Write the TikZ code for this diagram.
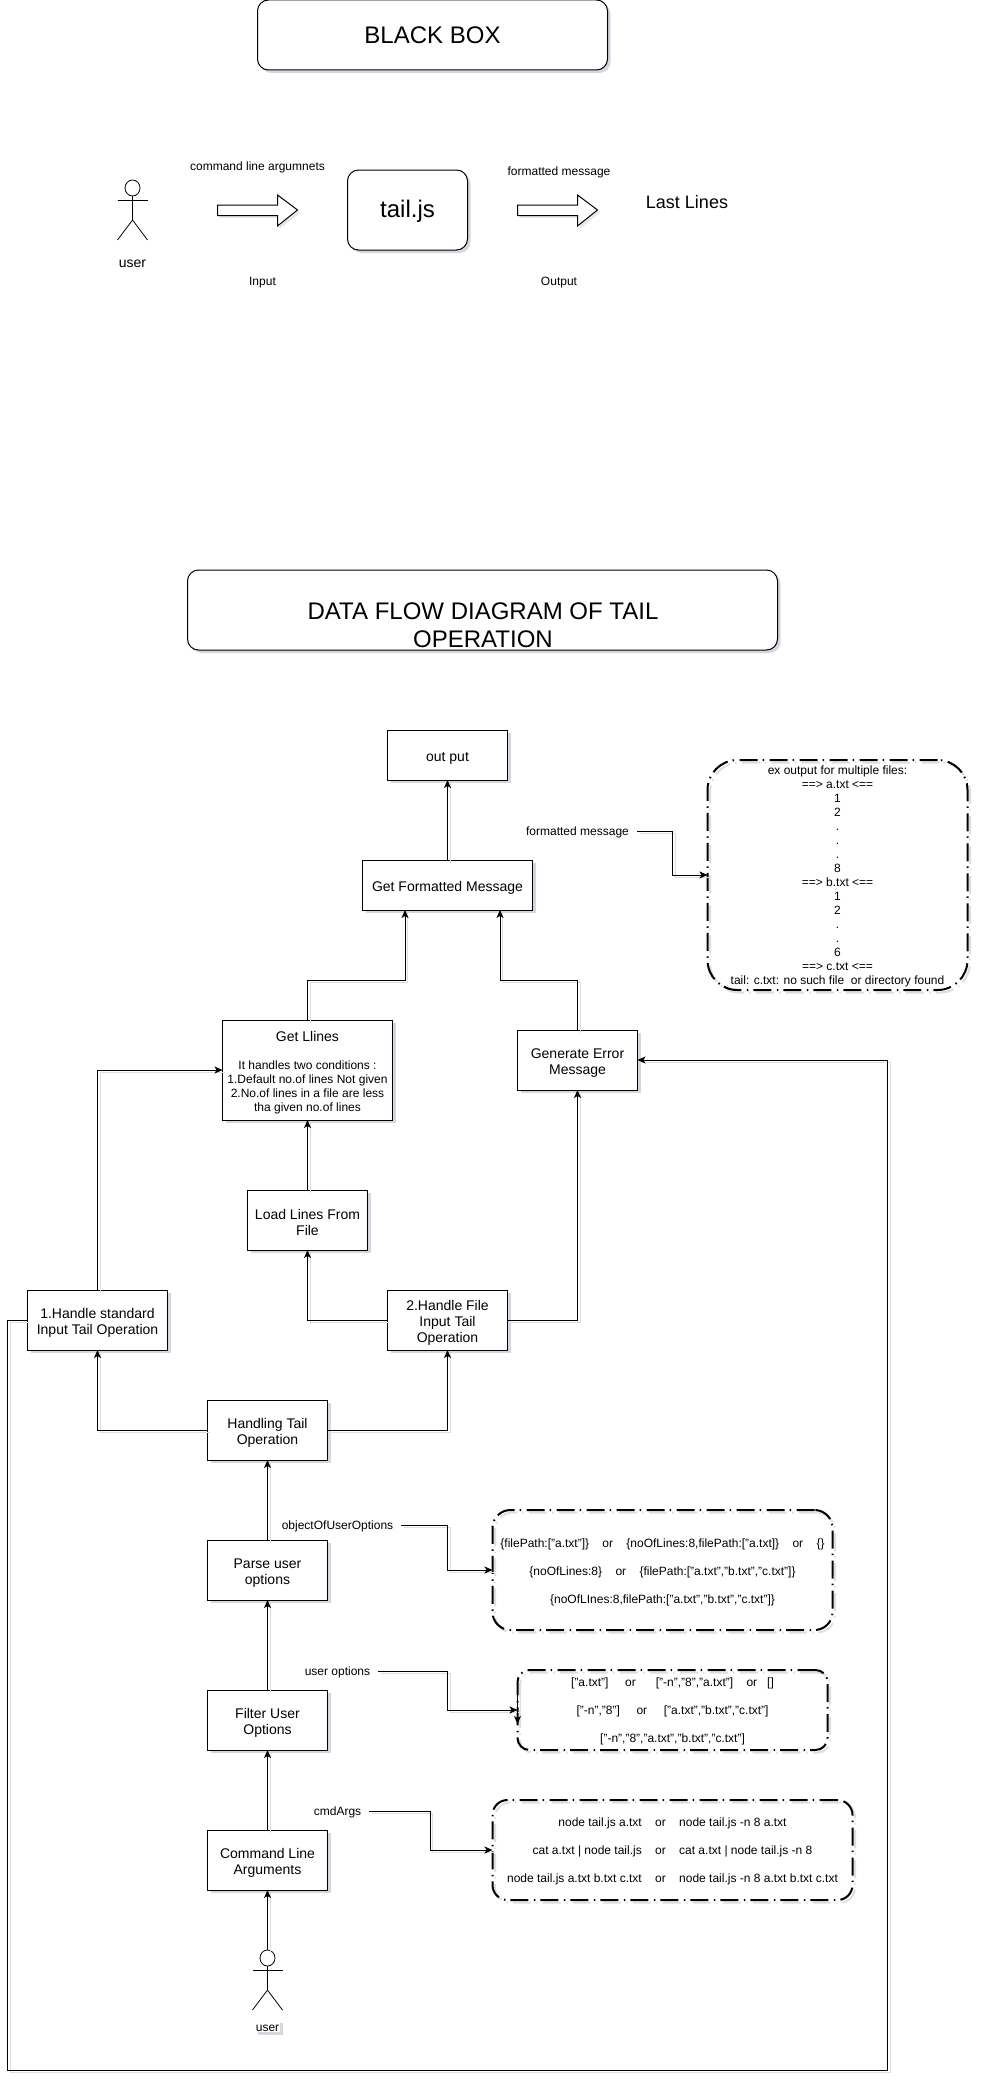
\documentclass[tikz,border=0pt]{standalone}
\usepackage{fontspec}
\setmainfont{Liberation Sans}
\usetikzlibrary{arrows.meta,shadows}
\newcommand{\up}[1]{\rule{0pt}{#1pt}}
\tikzset{
  sbox/.style={drop shadow={shadow xshift=3pt,shadow yshift=-3pt,fill=black!75!blue,opacity=0.16}},
  fbox/.style={draw,fill=white,sbox,line width=1pt,inner sep=0pt,outer sep=0pt,align=center,font=\fontsize{14}{16}\selectfont},
  tbox/.style={fbox,rounded corners=11pt},
  dbox/.style={draw,line width=2pt,inner sep=0pt,outer sep=0pt,align=center,dash pattern=on 18pt off 5.5pt on 1.5pt off 5pt,
    preaction={draw=black!13,transform canvas={shift={(2.5pt,-2.5pt)}}}},
  lbl/.style={inner sep=8pt,align=center,font=\fontsize{12}{14}\selectfont,execute at begin node={\up{11.5}}},
  ln/.style={line width=1pt,preaction={draw=black!13,-,transform canvas={shift={(2.5pt,-2.5pt)}}}},
  conn/.style={ln,-{Stealth[length=8pt,width=7pt,inset=2pt]}},
  actor/.style={line width=0.8pt},
  barrow/.style={line width=1pt,fill=white,drop shadow={shadow xshift=2.5pt,shadow yshift=-2.5pt,opacity=0.2}}
}
\begin{document}
\begin{tikzpicture}[x=1pt,y=-1pt]
\useasboundingbox (0,0) rectangle (980,2090);
%black box part
\node[tbox,minimum width=350,minimum height=70,font=\fontsize{24}{28}\selectfont] (blackbox) at (432.5,35) {BLACK BOX};
\node[tbox,minimum width=120,minimum height=80,font=\fontsize{24}{28}\selectfont] (tailjs) at (407.5,210) {\up{20}tail.js};
\node[lbl,font=\fontsize{14}{16}\selectfont] (user1) at (132.5,262) {user};
\node[lbl] (cmdline) at (257.5,166) {command line argumnets};
\node[lbl] (fmtout) at (559,171) {formatted message};
\node[lbl] (inlbl) at (262.5,281) {Input};
\node[lbl] (outlbl) at (559,281) {Output};
\node[lbl,font=\fontsize{18}{20}\selectfont] (lastlines) at (687,202) {Last Lines};
\foreach \x in {217.5,517.5}{\draw[barrow] (\x,205)--++(60,0)--++(0,-10)--++(20,15)--++(-20,16)--++(0,-10.5)--++(-60,0)--cycle;}
%actors
\foreach \x/\y in {132.5/180,267.5/1950}{
\draw[actor] (\x,\y+8) ellipse (7.5pt and 8pt);
\draw[actor] (\x-15,\y+20)--++(30,0);
\draw[actor] (\x,\y+16)--(\x,\y+40);
\draw[actor] (\x-15,\y+60)--(\x,\y+40)--(\x+15,\y+60);
}
%title
\node[tbox,minimum width=590,minimum height=80] (flowbox) at (482.5,610) {};
\node[font=\fontsize{24}{28}\selectfont,align=center] (flowtitle) at (483,625) {DATA FLOW DIAGRAM OF TAIL\\OPERATION};
%boxes
\node[fbox,minimum width=120,minimum height=50] (output) at (447.5,755) {\up{15.5}out put};
\node[fbox,minimum width=170,minimum height=50] (getfmt) at (447.5,885) {\up{15.5}Get Formatted Message};
\node[fbox,minimum width=170,minimum height=100,font=\fontsize{12}{14}\selectfont] (getlines) at (307.5,1070) {{\fontsize{14}{14}\selectfont\up{15.5}Get Llines}\\[14pt]It handles two conditions :\\1.Default no.of lines Not given\\2.No.of lines in a file are less\\tha given no.of lines};
\node[fbox,minimum width=120,minimum height=60] (generr) at (577.5,1060) {\up{15.5}Generate Error\\Message};
\node[fbox,minimum width=120,minimum height=60] (loadlines) at (307.5,1220) {\up{15.5}Load Lines From\\File};
\node[fbox,minimum width=140,minimum height=60] (stdin) at (97.5,1320) {\up{15.5}1.Handle standard\\Input Tail Operation};
\node[fbox,minimum width=120,minimum height=60] (fileinput) at (447.5,1320) {\up{15.5}2.Handle File\\Input Tail\\Operation};
\node[fbox,minimum width=120,minimum height=60] (handling) at (267.5,1430) {\up{15.5}Handling Tail\\Operation};
\node[fbox,minimum width=120,minimum height=60] (parse) at (267.5,1570) {\up{15.5}Parse user\\options};
\node[fbox,minimum width=120,minimum height=60] (filter) at (267.5,1720) {\up{15.5}Filter User\\Options};
\node[fbox,minimum width=120,minimum height=60] (cmdargs) at (267.5,1860) {\up{15.5}Command Line\\Arguments};
\node[lbl,inner sep=0.5pt,fill=white,sbox] (user2) at (267.5,2026) {user};
%dashed boxes
\node[dbox,rounded corners=30pt,minimum width=260,minimum height=230,font=\fontsize{12}{14}\selectfont] (sample) at (837.5,875) {\up{12}ex output for multiple files:\\==> a.txt <==\\1\\2\\.\\.\\.\\8\\==> b.txt <==\\1\\2\\.\\.\\6\\==> c.txt <==\\tail: c.txt: no such file~~or directory found};
\node[dbox,rounded corners=18pt,minimum width=340,minimum height=120,font=\fontsize{12}{28}\selectfont] (objbox) at (662.5,1570) {\up{13.5}\{filePath:["a.txt"]\}~~~~or~~~~\{noOfLines:8,filePath:["a.txt]\}~~~~or~~~~\{\}\\\{noOfLines:8\}~~~~or~~~~\{filePath:["a.txt","b.txt","c.txt"]\}\\\{noOfLInes:8,filePath:["a.txt","b.txt","c.txt"]\}};
\node[dbox,rounded corners=12pt,minimum width=310,minimum height=80,font=\fontsize{12}{28}\selectfont] (optbox) at (672.5,1710) {\up{12}["a.txt"]~~~~~or~~~~~~["-n","8","a.txt"]~~~~or~~~[]\\{}["-n","8"]~~~~~or~~~~~["a.txt","b.txt","c.txt"]\\{}["-n","8","a.txt","b.txt","c.txt"]};
\node[dbox,rounded corners=15pt,minimum width=360,minimum height=100,font=\fontsize{12}{28}\selectfont] (argbox) at (672.5,1850) {\up{12}node tail.js a.txt~~~~or~~~~node tail.js -n 8 a.txt\\cat a.txt | node tail.js~~~~or~~~~cat a.txt | node tail.js -n 8\\node tail.js a.txt b.txt c.txt~~~~or~~~~node tail.js -n 8 a.txt b.txt c.txt};
%labels of the flows
\node[lbl] (fmtlbl) at (577.5,831) {formatted message};
\node[lbl] (objlbl) at (337.5,1525) {objectOfUserOptions};
\node[lbl] (optlbl) at (337.5,1671) {user options};
\node[lbl] (arglbl) at (337.5,1811) {cmdArgs};
%bends
\coordinate (fa) at (405,980);
\coordinate (fb) at (500,980);
\coordinate (fc) at (672.5,831);
\coordinate (oa) at (447.5,1525);
\coordinate (ob) at (447.5,1671);
\coordinate (oc) at (430,1811);
\coordinate (ua) at (267.5,1950);
\coordinate (sa) at (517.5,1690);
\coordinate (sb) at (517.5,1724);
\coordinate (wa) at (7.5,2070);
\coordinate (wb) at (887.5,2070);
%flow
\draw[conn] (getfmt.north)--(output.south);
\draw[conn] (getlines.north)|-(fa)--(fa|-getfmt.south);
\draw[conn] (generr.north)|-(fb)--(fb|-getfmt.south);
\draw[conn] (loadlines.north)--(getlines.south);
\draw[conn] (fileinput.west)-|(loadlines.south);
\draw[conn] (fileinput.east)-|(generr.south);
\draw[conn] (handling.west)-|(stdin.south);
\draw[conn] (handling.east)-|(fileinput.south);
\draw[conn] (stdin.north)|-(getlines.west);
\draw[conn] (stdin.west)-|(wa)--(wb)|-(generr.east);
\draw[conn] (parse.north)--(handling.south);
\draw[conn] (filter.north)--(parse.south);
\draw[conn] (cmdargs.north)--(filter.south);
\draw[conn] (ua)--(cmdargs.south);
\draw[conn] (fmtlbl.east)--(fc)|-(sample.west);
\draw[conn] (objlbl.east)--(oa)|-(objbox.west);
\draw[conn] (optlbl.east)--(ob)|-(optbox.west);
\draw[conn] (arglbl.east)--(oc)|-(argbox.west);
\draw[conn] (sa)--(sb);
\end{tikzpicture}
\end{document}
